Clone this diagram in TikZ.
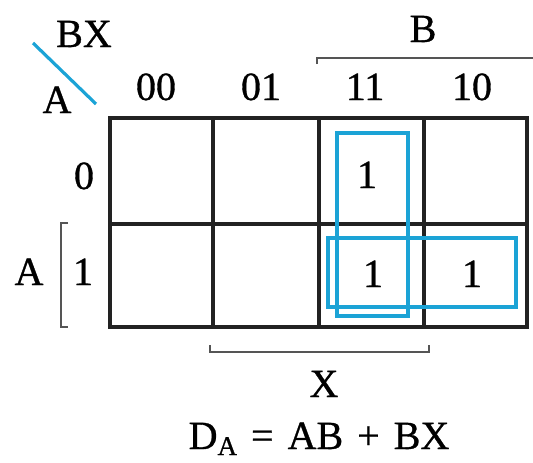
\documentclass[tikz,border=0pt]{standalone}
\usepackage{fontspec}
\setmainfont{Liberation Serif}[FakeBold=0.8]
\definecolor{kblue}{HTML}{1BA3D6}
\definecolor{kgrid}{HTML}{222222}
\definecolor{kbrk}{HTML}{555555}
\begin{document}
\begin{tikzpicture}[x=1pt,y=-1pt,
  lbl/.style={anchor=base,inner sep=0pt,font=\fontsize{40}{46}\selectfont},
  gridline/.style={draw=kgrid,line width=3.6pt},
  loop/.style={draw=kblue,line width=3.4pt},
  brk/.style={draw=kbrk,line width=1.8pt}]
\useasboundingbox (0,0) rectangle (533,463);
% grid
\draw[gridline] (110,118) rectangle (527,327);
\draw[gridline] (213,118) -- (213,327);
\draw[gridline] (319,118) -- (319,327);
\draw[gridline] (424,118) -- (424,327);
\draw[gridline] (110,224) -- (527,224);
% loops
\draw[loop] (337,133) rectangle (408,316);
\draw[loop] (328,238) rectangle (516,307);
% corner diagonal
\draw[draw=kblue,line width=3.2pt] (33,43) -- (96,104);
\node[lbl] (bx) at (84,47) {BX};
\node[lbl] (a1) at (57,113) {A};
% column labels
\node[lbl] (c00) at (156,100) {00};
\node[lbl] (c01) at (261,100) {01};
\node[lbl] (c11) at (365,100) {11};
\node[lbl] (c10) at (472,100) {10};
% B bracket
\node[lbl] (b) at (423,42) {B};
\draw[brk] (317,64) -- (317,58) -- (533,58);
% row labels
\node[lbl] (r0) at (84,189) {0};
\node[lbl] (r1) at (83,285) {1};
\node[lbl] (a2) at (29,285) {A};
\draw[brk] (68,223) -- (61,223) -- (61,327) -- (68,327);
% cells
\node[lbl] (m11a) at (367,188) {1};
\node[lbl] (m11b) at (373,287) {1};
\node[lbl] (m10b) at (472,287) {1};
% X bracket
\draw[brk] (210,345) -- (210,352) -- (429,352) -- (429,345);
\node[lbl] (x) at (324,397) {X};
% equation
\node[lbl] (eq) at (319,449) {D\raisebox{-6pt}{\fontsize{27}{30}\selectfont A}\kern14pt=\kern14pt AB\kern14pt+\kern14pt BX};
\end{tikzpicture}
\end{document}
